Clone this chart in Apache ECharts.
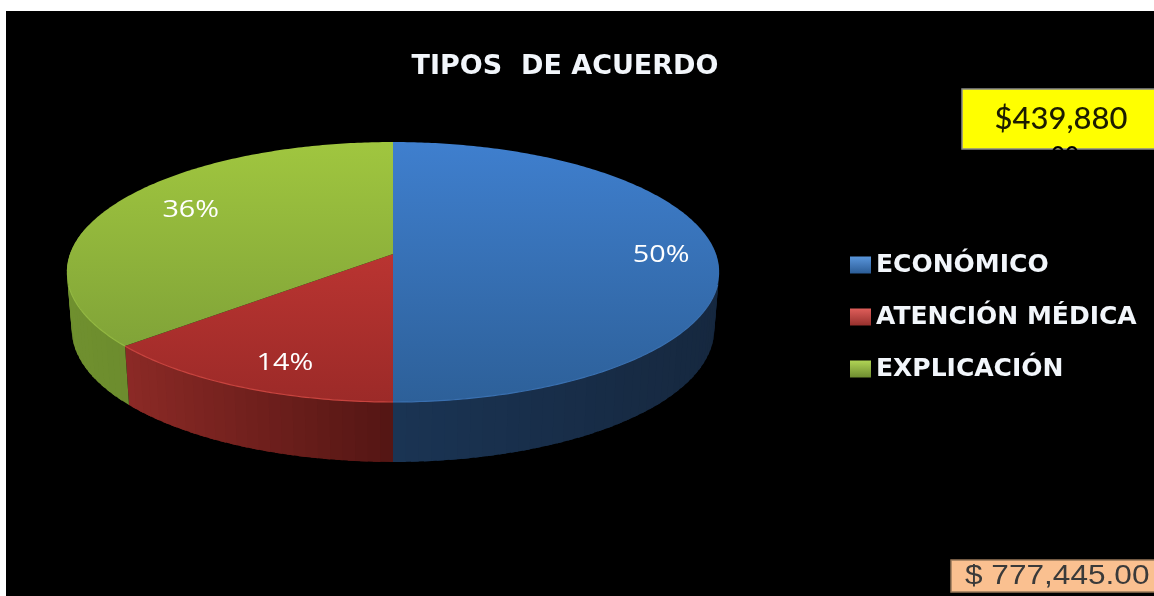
<!DOCTYPE html>
<html>
<head>
<meta charset="utf-8">
<style>html,body{margin:0;padding:0;background:#fff;overflow:hidden}#chart{width:1154px;height:596px;filter:blur(0.5px)}</style>
<script src="https://cdn.jsdelivr.net/npm/echarts@6/dist/echarts.min.js"></script>
</head>
<body>
<div id="chart"></div>
<script>
// ---- data ----
var categories = ['ECONÓMICO', 'ATENCIÓN MÉDICA', 'EXPLICACIÓN'];
var shares = [50, 13.6, 36.4];
var titleText = 'TIPOS  DE ACUERDO';
var yellowBoxText = '$439,880';
var yellowBoxHiddenLine = '00';
var peachBoxText = '$ 777,445.00';

// ---- layout and style ----
var cx = 393, apexY = 254, a = 323, b = 127.5, k = -0.1385;
var labelRadius = [0.83, 0.80, 0.72];
var labelNudge = [[0, 1], [11, 6], [1, -7]];
var topStops = [
  ['#3f7fce', '#2d6099'],
  ['#d03c38', '#9c2a28'],
  ['#a0c63f', '#789a36']
];
var sideStops = [
  ['#1a3454', '#16283f'],
  ['#8c2a26', '#551614'],
  ['#70902f', '#5d7c28']
];
var rimColors = ['#3a70b0', '#c8443f', '#93b842'];
var legendStops = [
  ['#5a96dc', '#2b5c96'],
  ['#df5e5a', '#96302d'],
  ['#b0d455', '#6e8c30']
];

function project(u, v) {
  var d = 1 + k * v;
  return [cx + a * u / d, apexY + b * v / d];
}
function rimPoint(t) {
  return project(Math.sin(t), -Math.cos(t));
}
function lowPoint(t) {
  var p = rimPoint(t), v = -Math.cos(t);
  return [cx + (p[0] - cx) * 0.985, p[1] + 57 + 3 * v];
}
function arcPoints(fn, t0, t1) {
  var pts = [], n = Math.max(8, Math.ceil((t1 - t0) * 80));
  for (var i = 0; i <= n; i++) pts.push(fn(t0 + (t1 - t0) * i / n));
  return pts;
}
function vGrad(c) {
  return new echarts.graphic.LinearGradient(0, 142, 0, 402, [
    { offset: 0, color: c[0] }, { offset: 1, color: c[1] }
  ], true);
}

var total = shares.reduce(function (s, x) { return s + x; }, 0);

// the wall of a slice, as vertical bands shaded from its left end to its right end
function wallBands(idx, t0, t1) {
  var out = [], step = 0.035;
  var n = Math.ceil((t1 - t0) / step);
  var xs = [];
  for (var i = 0; i <= n; i++) xs.push(rimPoint(t0 + (t1 - t0) * i / n)[0]);
  var minX = Math.min.apply(null, xs), maxX = Math.max.apply(null, xs);
  for (var j = 0; j < n; j++) {
    var ta = t0 + (t1 - t0) * j / n;
    var tb = t0 + (t1 - t0) * Math.min(n, j + 1.6) / n;
    if (-Math.cos(ta) < -0.2 && -Math.cos(tb) < -0.2) continue;
    var f = (xs[j] - minX) / (maxX - minX || 1);
    out.push({
      type: 'polygon', z2: 1,
      shape: { points: [rimPoint(ta), rimPoint(tb), lowPoint(tb), lowPoint(ta)] },
      style: { fill: echarts.color.lerp(f, sideStops[idx]) }
    });
  }
  return out;
}

function makeRender(idx) {
  return function (params, api) {
    var before = 0;
    for (var i = 0; i < idx; i++) before += shares[i];
    var t0 = before / total * 2 * Math.PI;
    var t1 = t0 + api.value(0) / total * 2 * Math.PI;
    var tm = (t0 + t1) / 2;
    var rim = arcPoints(rimPoint, t0, t1);
    var front = rim.filter(function (p) { return p[1] > apexY + 30; });
    var r = labelRadius[idx];
    var lp = project(r * Math.sin(tm), -r * Math.cos(tm));
    var pct = Math.round(api.value(0) / total * 100) + '%';
    var kids = wallBands(idx, t0, t1);
    kids.push(
      { type: 'polygon', z2: 10, shape: { points: [project(0, 0)].concat(rim) },
        style: { fill: vGrad(topStops[idx]) } },
      { type: 'polyline', z2: 11, shape: { points: front },
        style: { fill: null, stroke: rimColors[idx], lineWidth: 1.2 } },
      { type: 'text', z2: 20, x: lp[0] + labelNudge[idx][0], y: lp[1] + labelNudge[idx][1], scaleX: 1.25,
        style: { text: pct, fill: '#fff', font: '23px "Open Sans"', align: 'center', verticalAlign: 'middle' } }
    );
    return { type: 'group', children: kids };
  };
}

var series = categories.map(function (name, i) {
  return {
    type: 'custom',
    name: name,
    coordinateSystem: 'none',
    silent: true,
    clip: false,
    itemStyle: { color: topStops[i][0] },
    data: [[shares[i]]],
    renderItem: makeRender(i)
  };
});

var chart = echarts.init(document.getElementById('chart'), null, { renderer: 'canvas' });
chart.setOption({
  animation: false,
  backgroundColor: '#ffffff',
  title: {
    text: titleText, left: 560, top: 48, textAlign: 'center',
    textStyle: { color: '#f2f6fb', fontFamily: 'DejaVu Sans', fontWeight: 'bold', fontSize: 27 }
  },
  legend: {
    orient: 'vertical', left: 845, top: 247, itemWidth: 21, itemHeight: 17,
    itemGap: 26, selectedMode: false, icon: 'rect',
    textStyle: { color: '#f2f6fb', fontFamily: 'DejaVu Sans', fontWeight: 'bold', fontSize: 25, lineHeight: 26 },
    data: categories.map(function (n, i) {
      return { name: n, itemStyle: { color: new echarts.graphic.LinearGradient(0, 0, 0, 1, [
        { offset: 0, color: legendStops[i][0] }, { offset: 1, color: legendStops[i][1] }
      ]) } };
    })
  },
  graphic: [
    { type: 'rect', z: -1, silent: true, shape: { x: 6, y: 11, width: 1148, height: 585 }, style: { fill: '#000' } },
    { type: 'rect', z: 1, silent: true, shape: { x: 962, y: 89, width: 200, height: 60 },
      style: { fill: '#ffff00', stroke: '#8a8a8a', lineWidth: 1.5 } },
    { type: 'text', z: 2, silent: true, x: 1061, y: 119,
      style: { text: yellowBoxText, fill: '#1c1c00', font: '500 31px Lato', align: 'center', verticalAlign: 'middle' } },
    { type: 'text', z: 2, silent: true, x: 1065, y: 144,
      style: { text: yellowBoxHiddenLine, fill: '#000', font: '500 24px Lato', align: 'center', verticalAlign: 'top' } },
    { type: 'rect', z: 1, silent: true, shape: { x: 951, y: 560, width: 210, height: 32 },
      style: { fill: '#fac090', stroke: '#99785a', lineWidth: 1.5 } },
    { type: 'text', z: 2, silent: true, x: 965, y: 577, scaleX: 1.17,
      style: { text: peachBoxText, fill: '#3a3a3a', font: '27px "Liberation Sans"', align: 'left', verticalAlign: 'middle' } }
  ],
  series: series
});
</script>
</body>
</html>
